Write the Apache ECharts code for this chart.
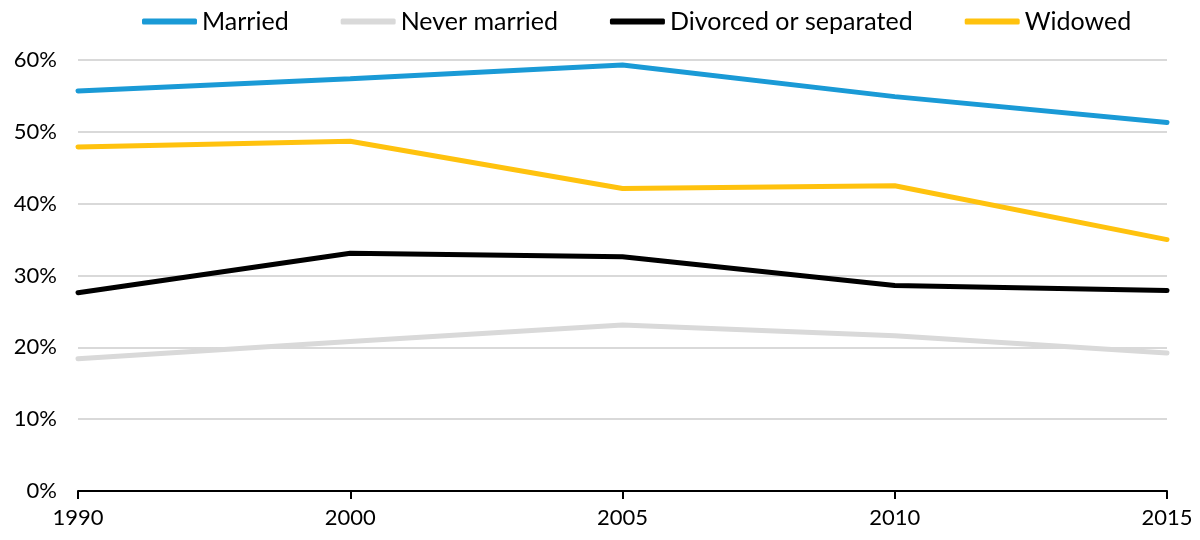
<!DOCTYPE html>
<html>
<head>
<meta charset="utf-8">
<script src="https://cdn.jsdelivr.net/npm/echarts@6/dist/echarts.min.js"></script>
<style>
  html, body { margin: 0; padding: 0; background: #fff; }
  #chart { width: 1200px; height: 540px; }
</style>
</head>
<body>
<div id="chart"></div>
<script>
// years on the x axis
var years = ['1990', '2000', '2005', '2010', '2015'];
// share in percent
var married = [55.7, 57.4, 59.3, 54.9, 51.3];
var neverMarried = [18.4, 20.8, 23.1, 21.6, 19.2];
var divorced = [27.6, 33.1, 32.6, 28.6, 27.9];
var widowed = [47.9, 48.7, 42.1, 42.5, 35.0];

var names = ['Married', 'Never married', 'Divorced or separated', 'Widowed'];
var colors = ['#1a9ad6', '#d9d9d9', '#000000', '#ffc20e'];
var values = [married, neverMarried, divorced, widowed];

var series = [];
for (var i = 0; i < names.length; i++) {
  series.push({
    name: names[i],
    type: 'line',
    data: values[i],
    symbol: 'none',
    lineStyle: { width: 5, color: colors[i], cap: 'round' },
    itemStyle: { color: colors[i] }
  });
}

var myChart = echarts.init(document.getElementById('chart'));
myChart.setOption({
  animation: false,
  textStyle: { fontFamily: 'Lato', color: '#000' },
  color: colors,
  legend: {
    top: 4,
    left: 137,
    icon: 'roundRect',
    itemWidth: 55,
    itemHeight: 6,
    itemGap: 52,
    textStyle: { fontFamily: 'Lato', fontSize: 25, color: '#000' },
    data: names
  },
  grid: {
    left: 78,
    right: 33,
    top: 60,
    bottom: 49,
    containLabel: false
  },
  xAxis: {
    type: 'category',
    data: years,
    boundaryGap: false,
    axisLine: { lineStyle: { color: '#000', width: 2 } },
    axisTick: { show: true, length: 8, lineStyle: { color: '#000', width: 2 } },
    axisLabel: { fontFamily: 'Lato', fontSize: 22, color: '#000', margin: 16 },
    splitLine: { show: false }
  },
  yAxis: {
    type: 'value',
    min: 0,
    max: 60,
    interval: 10,
    axisLine: { show: false },
    axisTick: { show: false },
    axisLabel: { fontFamily: 'Lato', fontSize: 22, color: '#000', margin: 21, formatter: '{value}%' },
    splitLine: { lineStyle: { color: '#d9d9d9', width: 2 } }
  },
  series: series
});
</script>
</body>
</html>
